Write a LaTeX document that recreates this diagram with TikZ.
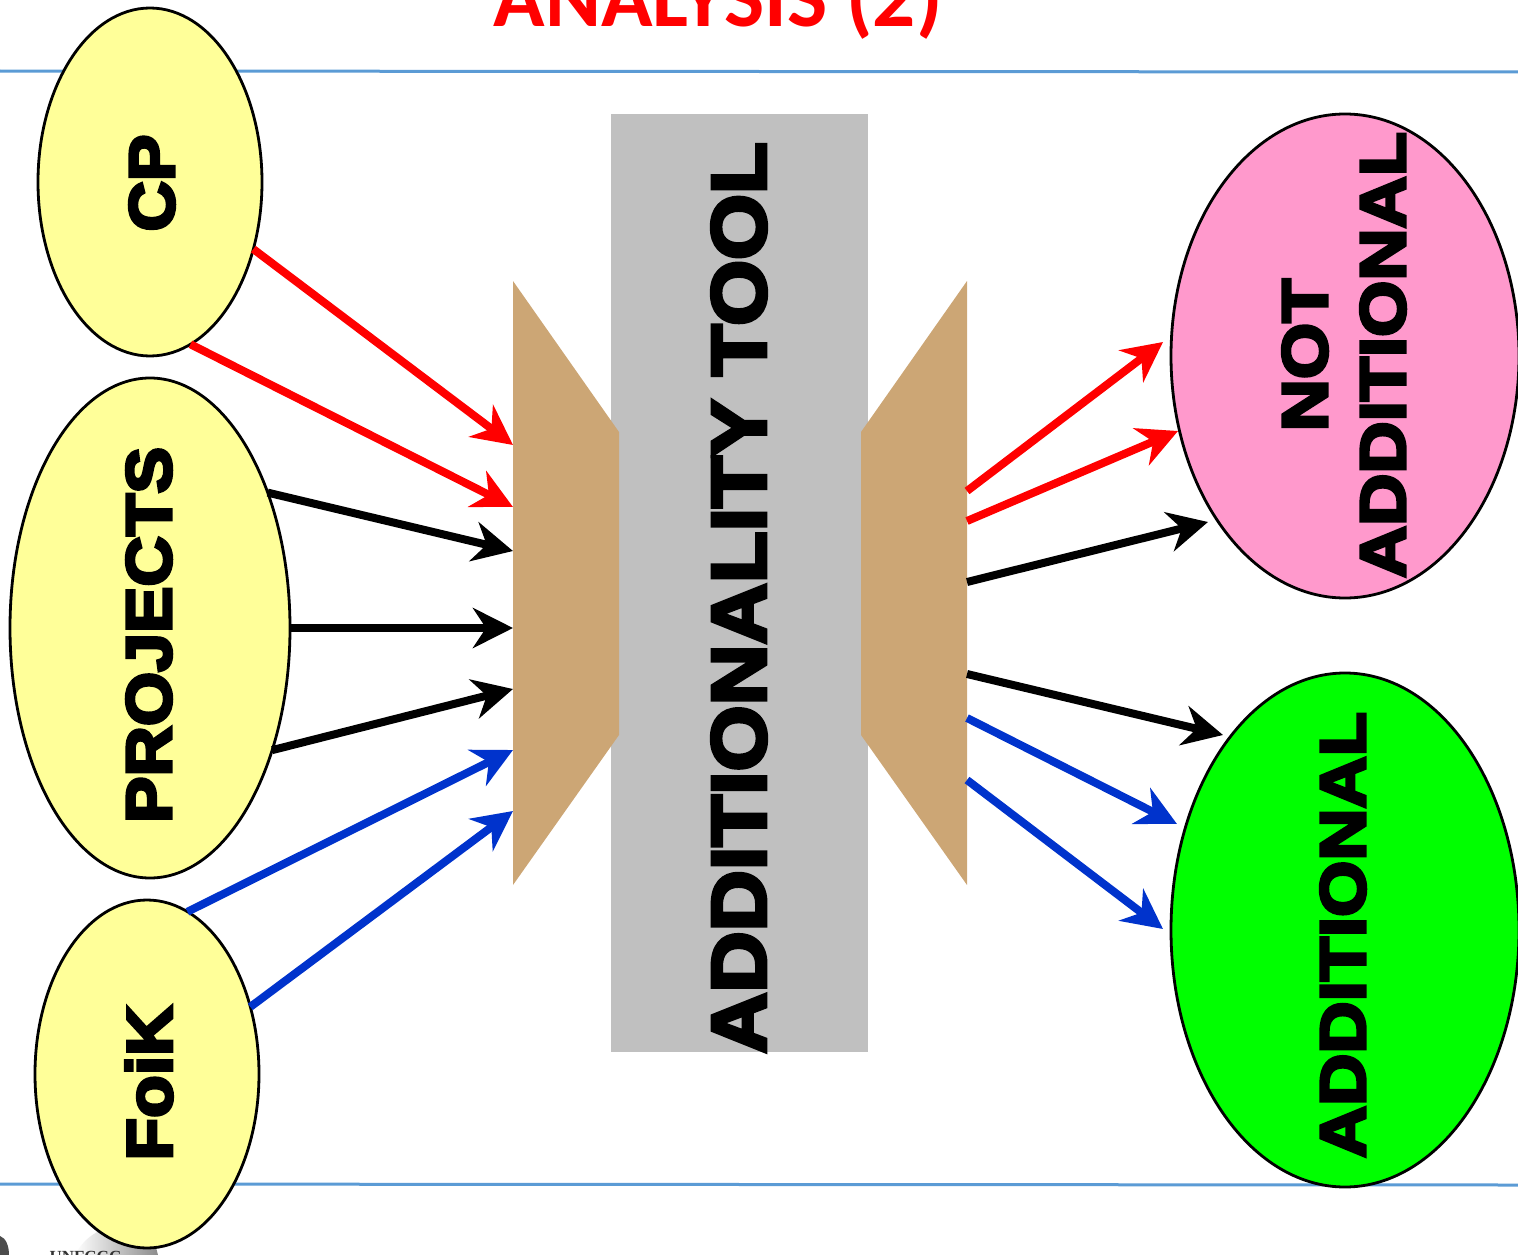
\documentclass[tikz,border=0pt]{standalone}
\usepackage{fontspec}
\setmainfont{Liberation Sans}
\newfontfamily\titlefont{Carlito}
\newfontfamily\heavy[BoldFeatures={FakeBold=5,FakeStretch=1.09}]{Liberation Sans}
\newfontfamily\heavywide[BoldFeatures={FakeBold=5,FakeStretch=1.13}]{Liberation Sans}
\newfontfamily\heavytool[BoldFeatures={FakeBold=5,FakeStretch=1.10}]{Liberation Sans}
\newfontfamily\unffont{Liberation Serif}
\usetikzlibrary{shapes.geometric,arrows.meta}
\definecolor{ylw}{HTML}{FFFF99}
\definecolor{pnk}{HTML}{FF99CC}
\definecolor{grn}{HTML}{00FF00}
\definecolor{tan2}{HTML}{CCA675}
\definecolor{gry}{HTML}{C0C0C0}
\definecolor{rule}{HTML}{5B9BD5}
\definecolor{blu}{HTML}{0033CC}
\tikzset{
 x=1pt,y=-1pt,
 oval/.style={ellipse,draw=black,line width=2.8pt,inner sep=0pt,outer sep=0pt,text=black},
 lbl/.style={font=\heavy\bfseries\fontsize{#1}{#1}\selectfont,rotate=90,text=black},
 lblw/.style={font=\heavywide\bfseries\fontsize{#1}{#1}\selectfont,rotate=90,text=black},
 lblt/.style={font=\heavytool\bfseries\fontsize{#1}{#1}\selectfont,rotate=90,text=black},
 conn/.style={line width=8pt,-{Stealth[length=40pt,width=40pt,inset=13pt]}},
}
\begin{document}
\begin{tikzpicture}
\useasboundingbox (0,0) rectangle (1518,1255);
\begin{scope}
\clip (0,0) rectangle (1518,1255);
\node[font=\titlefont\bfseries\fontsize{85}{85}\selectfont,text=red,anchor=base] (title) at (718,27) {ANALYSIS (2)};
\draw[rule,line width=3pt] (0,71) -- (1518,72);
\draw[rule,line width=3pt] (0,1184) -- (1518,1185);
\path[left color=white,right color=gray!90] (75,1255) .. controls (85,1235) and (105,1225) .. (125,1225) .. controls (145,1225) and (155,1240) .. (158,1255) -- cycle;
\node[anchor=base west,font=\unffont\bfseries\fontsize{17}{17}\selectfont,text=black!80] (unf) at (46,1262) {UNFCCC};
\fill[black!70] (0,1236) .. controls (6,1238) and (9,1246) .. (9,1255) -- (0,1255) -- cycle;
\fill[gry] (611,114) rectangle (868,1052);
\fill[tan2] (513,281) -- (619,432) -- (619,735) -- (513,885) -- cycle;
\fill[tan2] (967,281) -- (861,432) -- (861,735) -- (967,885) -- cycle;
\node[lblt=77,anchor=center] (tool) at (739,598) {ADDITIONALITY TOOL};
\coordinate (a1) at (513,445);
\coordinate (a2) at (513,507);
\coordinate (a3) at (513,551);
\coordinate (a4) at (513,628);
\coordinate (a5) at (513,689);
\coordinate (a6) at (513,750);
\coordinate (a7) at (513,811);
\coordinate (b1) at (967,491);
\coordinate (b2) at (967,521);
\coordinate (b3) at (967,582);
\coordinate (b4) at (967,674);
\coordinate (b5) at (967,718);
\coordinate (b6) at (967,780);
\coordinate (c1) at (1163,342);
\coordinate (c2) at (1178,431);
\coordinate (c3) at (1208,522);
\coordinate (c4) at (1223,735);
\coordinate (c5) at (1177,824);
\coordinate (c6) at (1163,929);
\node[oval,fill=ylw,minimum width=224pt,minimum height=348pt] (cp) at (150,182) {};
\node[oval,fill=ylw,minimum width=280pt,minimum height=500pt] (proj) at (150,628) {};
\node[oval,fill=ylw,minimum width=224pt,minimum height=348pt] (foik) at (147,1074) {};
\node[oval,fill=pnk,minimum width=348pt,minimum height=484pt] (nadd) at (1345,356) {};
\node[oval,fill=grn,minimum width=348pt,minimum height=514pt] (add) at (1345,930) {};
\node[lbl=64] (t1) at (152,183) {CP};
\node[lbl=64] (t2) at (149,635) {PROJECTS};
\node[lbl=64] (t3) at (149,1083) {FoiK};
\node[lblw=64,align=center] (t4) at (1344,355) {NOT\\[14pt]ADDITIONAL};
\node[lblw=64] (t5) at (1343,935) {ADDITIONAL};
\draw[conn,red] (cp.-33.4) -- (a1);
\draw[conn,red] (cp.-76.2) -- (a2);
\draw[conn,black] (proj.49.5) -- (a3);
\draw[conn,black] (proj.0) -- (a4);
\draw[conn,black] (proj.-45) -- (a5);
\draw[conn,blu] (foik.76.6) -- (a6);
\draw[conn,blu] (foik.33) -- (a7);
\draw[conn,red] (b1) -- (c1);
\draw[conn,red] (b2) -- (c2);
\draw[conn,black] (b3) -- (c3);
\draw[conn,black] (b4) -- (c4);
\draw[conn,blu] (b5) -- (c5);
\draw[conn,blu] (b6) -- (c6);
\end{scope}
\end{tikzpicture}
\end{document}
